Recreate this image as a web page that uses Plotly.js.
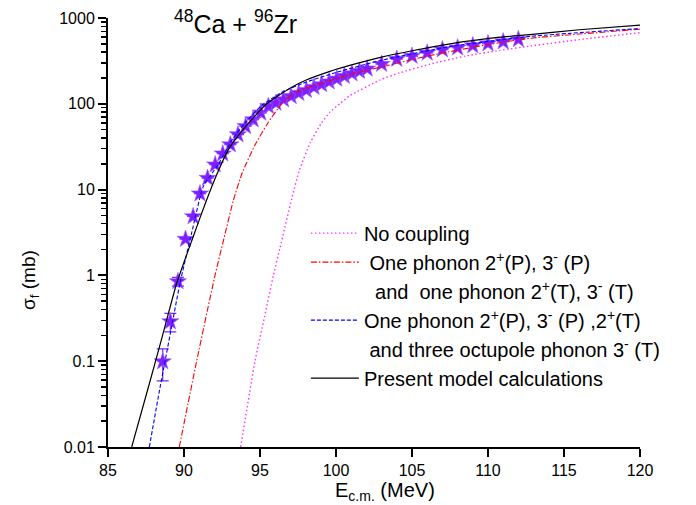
<!DOCTYPE html>
<html>
<head>
<meta charset="utf-8">
<script src="https://cdn.plot.ly/plotly-3.0.1.min.js"></script>
<style>html,body{margin:0;padding:0;background:#fff;}#chart{width:696px;height:505px;}</style>
</head>
<body>
<div id="chart"></div>
<script>
// Experimental fusion cross sections (stars)
const expE = [88.6, 89.1, 89.6, 90.1, 90.6, 91.05, 91.55, 92.05, 92.55, 93.05, 93.55, 94.05, 94.55, 95.05, 95.55, 96.05, 96.55, 97.05, 97.55, 98.05, 98.55, 99.05, 99.55, 100.05, 100.55, 101.05, 101.55, 102.05, 103, 104, 105, 106, 107, 108, 109, 110, 111, 112];
const expSigma = [0.099, 0.29, 0.85, 2.65, 4.86, 8.96, 13.6, 19.5, 26.2, 33.4, 43.8, 54.6, 65.4, 78.4, 93.6, 102, 112, 122, 133, 144, 156, 168, 181, 195, 210, 225, 240, 256, 290, 332, 360, 392, 428, 450, 477, 504, 530, 562];
const expErr = [0.04, 0.07, 0.1, 0, 0, 0, 0, 0, 0, 0, 0, 0, 0, 0, 0, 0, 0, 0, 0, 0, 0, 0, 0, 0, 0, 0, 0, 0, 0, 0, 0, 0, 0, 0, 0, 0, 0, 0];

// No coupling
const noCoupE = [93.73, 94.67, 95.3, 95.88, 96.32, 97.1, 97.6, 98.3, 99.0, 99.6, 100.3, 100.9, 102.9, 104.2, 106.2, 108.5, 110.8, 112.76, 116, 120];
const noCoupS = [0.01, 0.1, 0.33, 1, 2.1, 8, 17, 35, 58, 80, 102, 124, 190, 230, 290, 360, 420, 470, 560, 675];

// One phonon 2+(P),3-(P) and one phonon 2+(T),3-(T)
const onePhE = [89.69, 90.83, 92.04, 92.64, 93.24, 93.84, 94.67, 95.5, 96.43, 97.2, 98, 99.6, 100.92, 103, 106, 110, 112.76, 116, 120];
const onePhS = [0.01, 0.1, 1, 2.75, 7.4, 15.8, 33, 59, 100, 132, 151, 186, 219, 269, 360, 490, 580, 650, 740];

// One phonon 2+(P),3-(P),2+(T) and three octupole phonon 3-(T)
const octE = [87.72, 88.42, 89.1, 89.74, 90.5, 91.27, 92.2, 93.2, 94.1, 95.1, 96.5, 98, 100, 103, 107.5, 112.76, 120];
const octS = [0.01, 0.049, 0.21, 0.82, 3.1, 10.9, 19, 39, 62, 95, 138, 178, 232, 322, 465, 610, 754];

// Present model calculations
const presE = [86.56, 87.76, 88.6, 89.52, 90.61, 91.4, 92.15, 92.92, 94.0, 95.44, 97, 98, 99.6, 100.9, 103, 105, 107.5, 110.8, 112.76, 116, 120];
const presS = [0.01, 0.058, 0.203, 0.81, 2.84, 6.9, 14.9, 29.2, 53, 100, 153, 188, 239, 280, 350, 415, 500, 597, 641, 730, 824];

const legendNames = [
  'No coupling',
  '\u00a0One phonon 2<sup>+</sup>(P), 3<sup>-</sup> (P)',
  '\u00a0\u00a0and \u00a0one phonon 2<sup>+</sup>(T), 3<sup>-</sup> (T)',
  'One phonon 2<sup>+</sup>(P), 3<sup>-</sup> (P) ,2<sup>+</sup>(T)',
  '\u00a0and three octupole phonon 3<sup>-</sup> (T)',
  'Present model calculations'
];

const FONT = 'Arial, "Liberation Sans", sans-serif';
const violet = '#7f1fff';

const traces = [
  {x: expE, y: expSigma, mode: 'markers', type: 'scatter', showlegend: false,
   marker: {symbol: 'star', size: 13, color: violet, line: {width: 0.6, color: '#a060ff'}},
   error_y: {type: 'data', array: expErr, visible: true, color: violet, thickness: 1.2, width: 6}},
  {x: noCoupE, y: noCoupS, mode: 'lines', name: legendNames[0],
   line: {color: '#ff33ff', width: 1.4, dash: '1.5px,2.5px', shape: 'spline', smoothing: 0.5}},
  {x: onePhE, y: onePhS, mode: 'lines', name: legendNames[1],
   line: {color: '#ff0000', width: 1.1, dash: '6px,2px,1.5px,2px', shape: 'spline', smoothing: 0.6}},
  {x: [null], y: [null], mode: 'lines', name: legendNames[2], line: {width: 0, color: 'rgba(0,0,0,0)'}, hoverinfo: 'skip'},
  {x: octE, y: octS, mode: 'lines', name: legendNames[3],
   line: {color: '#0000ff', width: 1.1, dash: '4px,2px', shape: 'spline', smoothing: 0.5}},
  {x: [null], y: [null], mode: 'lines', name: legendNames[4], line: {width: 0, color: 'rgba(0,0,0,0)'}, hoverinfo: 'skip'},
  {x: presE, y: presS, mode: 'lines', name: legendNames[5],
   line: {color: '#000000', width: 1.2, shape: 'spline', smoothing: 0.5}}
];

const layout = {
  width: 696, height: 505,
  margin: {l: 108, r: 56, t: 18, b: 58, pad: 0},
  paper_bgcolor: '#ffffff', plot_bgcolor: '#ffffff',
  font: {family: FONT, color: '#000', size: 16},
  showlegend: true,
  legend: {x: 0.372, y: 0.544, xanchor: 'left', yanchor: 'top', bgcolor: 'rgba(0,0,0,0)',
           font: {family: FONT, size: 20, color: '#000'}, itemwidth: 48, traceorder: 'normal', tracegroupgap: 0},
  xaxis: {
    range: [85, 120], tickmode: 'linear', tick0: 85, dtick: 5,
    showline: true, linecolor: '#000', linewidth: 2, mirror: false,
    ticks: 'outside', ticklen: 8, tickwidth: 2, tickcolor: '#000',
    showgrid: false, zeroline: false,
    tickfont: {family: FONT, size: 16, color: '#000'}
  },
  yaxis: {
    type: 'log', range: [-2, 3], tickmode: 'linear', tick0: 0, dtick: 1, exponentformat: 'none',
    showline: true, linecolor: '#000', linewidth: 2, mirror: false,
    ticks: 'outside', ticklen: 8, tickwidth: 2, tickcolor: '#000',
    minor: {ticks: 'outside', ticklen: 5, tickwidth: 1.5, tickcolor: '#000', dtick: 'D1', showgrid: false},
    showgrid: false, zeroline: false,
    tickfont: {family: FONT, size: 16, color: '#000'}
  },
  annotations: [
    {text: '<sup>48</sup>Ca + <sup>96</sup>Zr', xref: 'paper', yref: 'paper', x: 0.2406, y: 0.99,
     xanchor: 'center', yanchor: 'middle', showarrow: false, font: {family: FONT, size: 25, color: '#000'}},
    {text: 'E<sub>c.m.</sub> (MeV)', xref: 'paper', yref: 'paper', x: 0.5207, y: -0.104,
     xanchor: 'center', yanchor: 'middle', showarrow: false, font: {family: FONT, size: 20, color: '#000'}},
    {text: '\u03c3<sub>f</sub> (mb)', xref: 'paper', yref: 'paper', x: -0.148, y: 0.39,
     xanchor: 'center', yanchor: 'middle', textangle: -90, showarrow: false, font: {family: FONT, size: 19, color: '#000'}}
  ]
};

Plotly.newPlot('chart', traces, layout, {displayModeBar: false, staticPlot: true});
</script>
</body>
</html>
